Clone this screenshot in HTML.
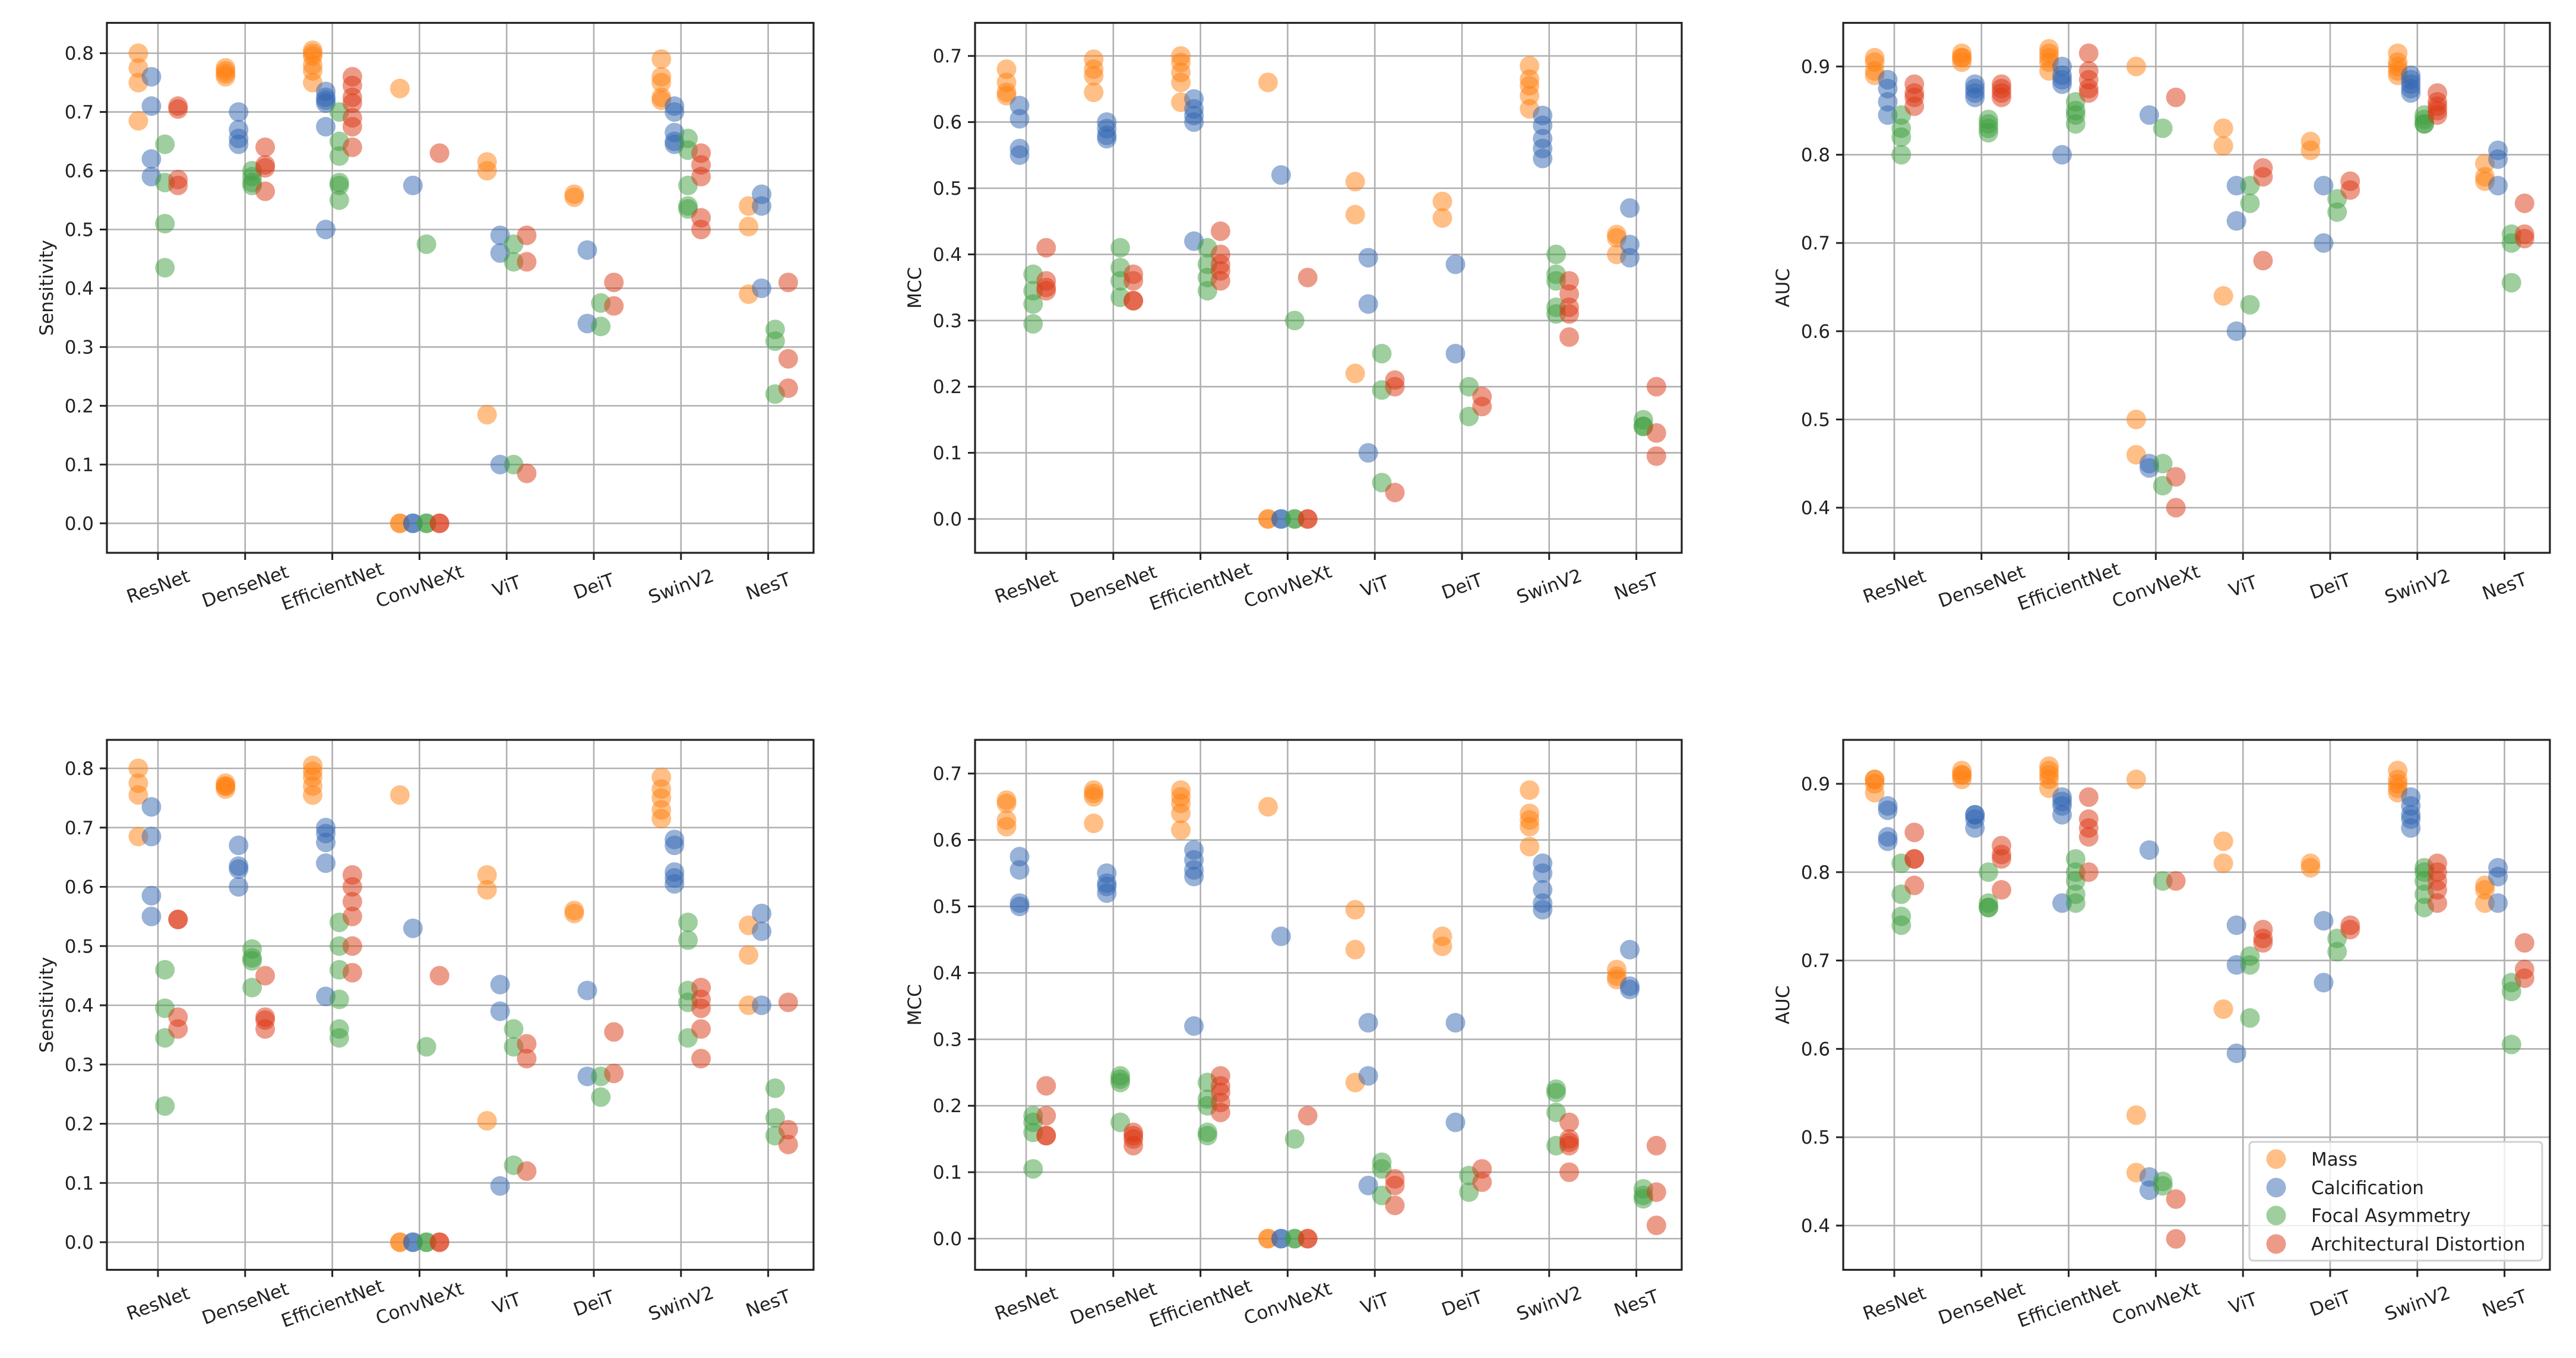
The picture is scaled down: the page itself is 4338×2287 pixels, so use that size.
<!DOCTYPE html>
<html><head><meta charset="utf-8">
<style>
html,body{margin:0;padding:0;background:#fff;}
svg{display:block;font-family:"DejaVu Sans","Liberation Sans",sans-serif;}
</style></head>
<body>
<svg id="fig" width="4338" height="2287" viewBox="0 0 4338 2287" xmlns="http://www.w3.org/2000/svg">
<rect x="0" y="0" width="4338" height="2287" fill="#ffffff"/>
</svg>
<script>
const categories = ["ResNet","DenseNet","EfficientNet","ConvNeXt","ViT","DeiT","SwinV2","NesT"];
const seriesNames = ["Mass","Calcification","Focal Asymmetry","Architectural Distortion"];

// Top row, Sensitivity
const sensTopMass = [[0.80,0.775,0.75,0.685],[0.775,0.765,0.76,0.77],[0.805,0.795,0.78,0.77,0.75,0.80],[0.74,0,0],[0.615,0.60,0.185],[0.56,0.555],[0.79,0.76,0.75,0.725,0.72],[0.54,0.505,0.39]];
const sensTopCalc = [[0.76,0.71,0.62,0.59],[0.70,0.67,0.655,0.645],[0.735,0.725,0.715,0.72,0.675,0.50],[0.575,0,0],[0.49,0.46,0.10],[0.465,0.34],[0.71,0.70,0.665,0.645,0.65],[0.56,0.54,0.40]];
const sensTopFocal = [[0.645,0.58,0.51,0.435],[0.60,0.59,0.58,0.575],[0.70,0.65,0.625,0.58,0.575,0.55],[0.475,0,0],[0.475,0.445,0.10],[0.375,0.335],[0.655,0.635,0.575,0.54,0.535],[0.33,0.31,0.22]];
const sensTopArch = [[0.705,0.71,0.585,0.575],[0.64,0.61,0.605,0.565],[0.76,0.745,0.725,0.715,0.69,0.675,0.64],[0.63,0,0],[0.49,0.445,0.085],[0.41,0.37],[0.63,0.61,0.59,0.52,0.50],[0.41,0.28,0.23]];
// Top row, MCC
const mccTopMass = [[0.68,0.66,0.64,0.645],[0.695,0.67,0.645,0.68],[0.70,0.69,0.675,0.66,0.63],[0.66,0,0],[0.51,0.46,0.22],[0.48,0.455],[0.685,0.665,0.655,0.64,0.62],[0.43,0.425,0.40]];
const mccTopCalc = [[0.625,0.605,0.56,0.55],[0.60,0.59,0.58,0.575],[0.635,0.62,0.61,0.60,0.42],[0.52,0,0],[0.395,0.325,0.10],[0.385,0.25],[0.61,0.595,0.575,0.56,0.545],[0.47,0.415,0.395]];
const mccTopFocal = [[0.37,0.345,0.325,0.295],[0.41,0.38,0.36,0.335],[0.41,0.385,0.365,0.345],[0.30,0,0],[0.25,0.195,0.055],[0.20,0.155],[0.40,0.37,0.36,0.32,0.31],[0.15,0.14,0.14]];
const mccTopArch = [[0.41,0.35,0.345,0.36],[0.37,0.36,0.33,0.33],[0.435,0.40,0.385,0.375,0.36],[0.365,0,0],[0.21,0.20,0.04],[0.185,0.17],[0.36,0.34,0.32,0.31,0.275],[0.20,0.13,0.095]];
// Top row, AUC
const aucTopMass = [[0.91,0.905,0.89,0.895],[0.915,0.91,0.905,0.91],[0.92,0.915,0.91,0.905,0.895],[0.90,0.50,0.46],[0.83,0.81,0.64],[0.815,0.805],[0.915,0.905,0.90,0.895,0.89],[0.79,0.775,0.77]];
const aucTopCalc = [[0.885,0.875,0.86,0.845],[0.88,0.875,0.87,0.865],[0.90,0.89,0.885,0.88,0.80],[0.845,0.45,0.445],[0.765,0.725,0.60],[0.765,0.70],[0.89,0.885,0.88,0.875,0.87],[0.805,0.795,0.765]];
const aucTopFocal = [[0.845,0.83,0.82,0.80],[0.84,0.835,0.83,0.825],[0.86,0.85,0.845,0.835],[0.83,0.45,0.425],[0.765,0.745,0.63],[0.75,0.735],[0.845,0.84,0.835,0.835],[0.71,0.70,0.655]];
const aucTopArch = [[0.88,0.865,0.855,0.87],[0.88,0.875,0.87,0.865],[0.915,0.895,0.885,0.875,0.87],[0.865,0.435,0.40],[0.785,0.775,0.68],[0.77,0.76],[0.87,0.86,0.855,0.85,0.845],[0.745,0.71,0.705]];
// Bottom row, Sensitivity
const sensBotMass = [[0.80,0.775,0.755,0.685],[0.775,0.77,0.765,0.77],[0.805,0.795,0.785,0.77,0.755],[0.755,0,0],[0.62,0.595,0.205],[0.56,0.555],[0.785,0.765,0.75,0.73,0.715],[0.535,0.485,0.40]];
const sensBotCalc = [[0.735,0.685,0.585,0.55],[0.67,0.635,0.63,0.60],[0.70,0.69,0.675,0.64,0.415],[0.53,0,0],[0.435,0.39,0.095],[0.425,0.28],[0.68,0.67,0.625,0.615,0.605],[0.555,0.525,0.40]];
const sensBotFocal = [[0.46,0.395,0.345,0.23],[0.495,0.48,0.475,0.43],[0.54,0.50,0.46,0.41,0.36,0.345],[0.33,0,0],[0.36,0.33,0.13],[0.28,0.245],[0.54,0.51,0.425,0.405,0.345],[0.26,0.21,0.18]];
const sensBotArch = [[0.545,0.38,0.36,0.545],[0.45,0.38,0.36,0.375],[0.62,0.60,0.575,0.55,0.50,0.455],[0.45,0,0],[0.335,0.31,0.12],[0.355,0.285],[0.43,0.41,0.395,0.36,0.31],[0.405,0.19,0.165]];
// Bottom row, MCC
const mccBotMass = [[0.66,0.655,0.63,0.62],[0.675,0.665,0.67,0.625],[0.675,0.665,0.655,0.64,0.615],[0.65,0,0],[0.495,0.435,0.235],[0.455,0.44],[0.675,0.64,0.63,0.62,0.59],[0.405,0.395,0.39]];
const mccBotCalc = [[0.575,0.555,0.505,0.50],[0.55,0.535,0.53,0.52],[0.585,0.57,0.555,0.545,0.32],[0.455,0,0],[0.325,0.245,0.08],[0.325,0.175],[0.565,0.55,0.525,0.505,0.495],[0.435,0.38,0.375]];
const mccBotFocal = [[0.185,0.175,0.16,0.105],[0.245,0.24,0.235,0.175],[0.235,0.21,0.20,0.16,0.155],[0.15,0,0],[0.115,0.105,0.065],[0.095,0.07],[0.225,0.22,0.19,0.14],[0.075,0.065,0.06]];
const mccBotArch = [[0.23,0.185,0.155,0.155],[0.16,0.155,0.15,0.14],[0.245,0.23,0.22,0.205,0.19],[0.185,0,0],[0.09,0.08,0.05],[0.105,0.085],[0.175,0.15,0.145,0.14,0.10],[0.14,0.07,0.02]];
// Bottom row, AUC
const aucBotMass = [[0.905,0.905,0.90,0.89],[0.915,0.91,0.905,0.91],[0.92,0.915,0.91,0.905,0.895],[0.905,0.525,0.46],[0.835,0.81,0.645],[0.81,0.805],[0.915,0.905,0.90,0.895,0.89],[0.785,0.78,0.765]];
const aucBotCalc = [[0.875,0.87,0.84,0.835],[0.865,0.865,0.86,0.85],[0.885,0.88,0.875,0.865,0.765],[0.825,0.455,0.44],[0.74,0.695,0.595],[0.745,0.675],[0.885,0.875,0.865,0.86,0.85],[0.805,0.795,0.765]];
const aucBotFocal = [[0.81,0.775,0.75,0.74],[0.80,0.765,0.76,0.76],[0.815,0.80,0.79,0.775,0.765],[0.79,0.45,0.445],[0.705,0.695,0.635],[0.725,0.71],[0.805,0.80,0.79,0.775,0.76],[0.675,0.665,0.605]];
const aucBotArch = [[0.845,0.815,0.815,0.785],[0.83,0.82,0.815,0.78],[0.885,0.86,0.85,0.84,0.80],[0.79,0.43,0.385],[0.735,0.725,0.72],[0.74,0.735],[0.81,0.80,0.79,0.78,0.765],[0.72,0.69,0.68]];

const sensTicks = ["0.0","0.1","0.2","0.3","0.4","0.5","0.6","0.7","0.8"];
const mccTicks = ["0.0","0.1","0.2","0.3","0.4","0.5","0.6","0.7"];
const aucTicks = ["0.4","0.5","0.6","0.7","0.8","0.9"];

const NS = "http://www.w3.org/2000/svg";
const svg = document.getElementById("fig");
const colors = ["rgb(255,127,14)","rgb(49,101,177)","rgb(64,160,64)","rgb(220,55,20)"];

function mk(tag, attrs, parent){
  const e = document.createElementNS(NS, tag);
  for (const k in attrs) e.setAttribute(k, attrs[k]);
  (parent||svg).appendChild(e);
  return e;
}

const panels = [
  {name:"sensitivity-top", label:"Sensitivity", left:180, top:38.5, v0:0.0, p0:881.3, ppu:989.6, ticks:sensTicks, data:[sensTopMass,sensTopCalc,sensTopFocal,sensTopArch]},
  {name:"mcc-top", label:"MCC", left:1642, top:38.5, v0:0.0, p0:874, ppu:1114, ticks:mccTicks, data:[mccTopMass,mccTopCalc,mccTopFocal,mccTopArch]},
  {name:"auc-top", label:"AUC", left:3104, top:38.5, v0:0.4, p0:855, ppu:1486, ticks:aucTicks, data:[aucTopMass,aucTopCalc,aucTopFocal,aucTopArch]},
  {name:"sensitivity-bottom", label:"Sensitivity", left:180, top:1246, v0:0.0, p0:2092, ppu:997.5, ticks:sensTicks, data:[sensBotMass,sensBotCalc,sensBotFocal,sensBotArch]},
  {name:"mcc-bottom", label:"MCC", left:1642, top:1246, v0:0.0, p0:2086, ppu:1119, ticks:mccTicks, data:[mccBotMass,mccBotCalc,mccBotFocal,mccBotArch]},
  {name:"auc-bottom", label:"AUC", left:3104, top:1246, v0:0.4, p0:2064, ppu:1488, ticks:aucTicks, data:[aucBotMass,aucBotCalc,aucBotFocal,aucBotArch]}
];
const W = 1190, H = 892.5;
const catStep = 146.8, catStart = 86;
const hueOffsets = [-0.225,-0.075,0.08,0.23];

panels.forEach(function(p){
  const g = mk("g", {});
  
  
  const xAt = function(i){ return p.left + catStart + i*catStep; };
  const yAt = function(v){ return p.p0 - (v - p.v0)*p.ppu; };
  const bottom = p.top + H;
  // grid
  p.ticks.forEach(function(t){
    const y = yAt(parseFloat(t));
    const gl = mk("line", {x1:p.left, x2:p.left+W, y1:y, y2:y, stroke:"#b0b0b0", "stroke-width":2.6}, g);
    
    
    const tk = mk("line", {x1:p.left-12, x2:p.left, y1:y, y2:y, stroke:"#222", "stroke-width":3}, g);
    
    
    const tl = mk("text", {x:p.left-22, y:y+11, "font-size":31, fill:"#222", "text-anchor":"end"}, g);
    tl.textContent = t;
    
    
  });
  categories.forEach(function(c, i){
    const x = xAt(i);
    const gl = mk("line", {x1:x, x2:x, y1:p.top, y2:bottom, stroke:"#b0b0b0", "stroke-width":2.6}, g);
    
    
    const tk = mk("line", {x1:x, x2:x, y1:bottom, y2:bottom+12, stroke:"#222", "stroke-width":3}, g);
    
    
    const cy = bottom + 56;
    const tl = mk("text", {x:x, y:cy+11, "font-size":31, fill:"#222", "text-anchor":"middle", transform:"rotate(-20 "+x+" "+cy+")"}, g);
    tl.textContent = c;
    
    
  });
  // points
  p.data.forEach(function(series, s){
    series.forEach(function(vals, i){
      vals.forEach(function(v){
        const pt = mk("circle", {cx:xAt(i + hueOffsets[s]), cy:yAt(v), r:16.5, fill:colors[s], "fill-opacity":0.5}, g);
        
        
      });
    });
  });
  // frame
  const fr = mk("rect", {x:p.left, y:p.top, width:W, height:H, fill:"none", stroke:"#222", "stroke-width":3.2}, g);
  
  
  // y label
  const lx = p.left - 102, ly = p.top + H/2;
  const yl = mk("text", {x:lx, y:ly+11, "font-size":31, fill:"#222", "text-anchor":"middle", transform:"rotate(-90 "+lx+" "+ly+")"}, g);
  yl.textContent = p.label;
  
  
});

// legend
const lg = mk("g", {});


const lbox = mk("rect", {x:3788, y:1923, width:493, height:200, rx:6, fill:"#ffffff", "fill-opacity":0.8, stroke:"#d0d0d0", "stroke-width":3}, lg);


const rowY = [1952, 2000, 2047, 2095];
seriesNames.forEach(function(n, s){
  const m = mk("circle", {cx:3833, cy:rowY[s], r:16.5, fill:colors[s], "fill-opacity":0.5}, lg);
  
  
  const t = mk("text", {x:3892, y:rowY[s]+11, "font-size":31, fill:"#222"}, lg);
  t.textContent = n;
  
  
});
</script>
</body></html>
